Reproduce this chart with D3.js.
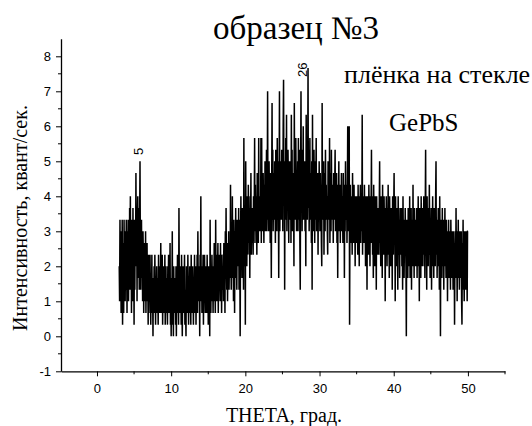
<!DOCTYPE html>
<html>
<head>
<meta charset="utf-8">
<script src="https://cdnjs.cloudflare.com/ajax/libs/d3/7.8.5/d3.min.js"></script>
<style>
  body { margin: 0; background: #fff; }
  svg { display: block; }
  .tick text { font-family: "Liberation Sans", Arial, sans-serif; font-size: 13px; fill: #000; }
</style>
</head>
<body>
<svg id="chart" width="532" height="426"></svg>
<script>
// scan: theta from 3 to 50 deg, step 0.05; counts per 3 s (intensity = counts / 3)
var thetaStart = 3;
var thetaStep = 0.05;
var counts = [
  6,3,10,4,8,2,9,3,10,1,7,8,2,10,5,8,3,9,4,10,
  6,2,9,5,10,3,8,4,11,6,12,4,9,2,10,7,3,11,5,8,
  1,10,4,9,6,14,8,11,3,10,12,5,9,11,4,10,15,7,4,8,
  10,5,8,3,9,7,2,8,4,7,3,9,2,6,4,8,3,5,1,7,
  2,6,3,7,4,1,5,3,7,2,4,0,5,3,6,2,7,4,1,5,
  3,6,2,5,4,1,7,3,5,2,6,4,8,2,5,3,7,1,4,6,
  2,5,3,7,1,4,6,2,5,3,1,6,4,7,2,5,3,8,1,4,
  0,5,3,9,1,4,0,6,2,4,3,5,1,6,0,4,2,7,3,5,
  1,11,4,2,6,3,5,1,7,3,0,4,6,2,5,3,7,1,4,2,
  0,6,3,5,2,7,4,1,5,3,6,2,4,1,7,3,5,2,6,4,
  1,5,3,7,2,4,6,1,5,3,7,2,9,4,6,3,5,0,7,4,
  12,3,6,2,5,4,7,1,5,3,7,4,2,6,3,5,2,7,4,5,
  1,6,3,5,0,10,4,2,6,3,7,4,5,2,6,3,8,4,5,2,
  10,4,7,3,6,5,8,2,6,4,7,5,3,8,4,6,2,7,5,4,
  6,3,8,4,7,2,9,5,11,6,4,8,3,7,5,9,4,6,8,5,
  13,7,4,9,6,12,5,8,3,10,7,2,9,6,11,5,8,4,10,7,
  9,6,11,4,10,7,0,8,12,6,9,5,11,7,10,4,17,8,6,10,
  1,15,8,11,6,12,9,7,13,10,8,11,5,12,9,14,7,10,8,11,
  10,7,12,9,11,17,8,13,10,9,12,7,14,10,11,8,17,9,12,10,
  11,9,17,8,17,10,12,9,14,11,8,13,10,15,9,12,11,16,9,12,
  21,10,13,9,15,11,12,8,14,11,5,13,20,10,16,9,14,12,10,15,
  12,8,16,11,14,9,17,10,15,12,5,13,21,9,15,12,14,10,16,11,
  13,9,18,22,12,15,4,14,10,17,12,19,9,14,11,16,13,8,15,12,
  14,10,15,8,19,12,16,9,14,11,13,6,20,12,15,10,17,13,9,14,
  12,15,9,17,13,10,16,8,4,14,21,12,16,9,15,11,18,10,14,12,
  15,9,13,6,19,12,15,10,14,23,11,16,9,13,17,10,14,12,8,15,
  4,19,11,14,9,16,12,8,15,10,13,17,9,12,11,14,7,13,10,15,
  12,9,14,11,13,8,6,20,11,13,10,15,7,12,14,9,16,11,13,10,
  12,9,7,15,11,13,10,17,8,12,14,9,16,11,13,10,12,8,14,11,
  10,13,16,9,12,11,14,8,13,5,12,10,15,9,11,13,8,12,10,14,
  9,12,11,8,14,10,13,5,12,9,15,11,10,13,8,12,18,9,11,14,
  18,1,10,13,8,12,9,11,7,14,10,12,8,13,9,11,6,12,10,9,
  8,12,10,7,13,9,11,6,12,10,13,8,11,9,10,19,7,12,9,11,
  8,13,9,11,6,12,8,10,4,12,9,11,7,13,9,10,6,12,8,11,
  16,8,12,7,10,5,13,9,11,6,12,8,10,4,12,9,7,11,8,10,
  7,11,15,8,10,6,12,9,11,5,13,8,10,7,12,9,11,3,10,8,
  12,9,6,11,8,13,7,10,5,12,8,9,6,11,8,10,4,12,9,7,
  11,14,8,10,3,12,7,9,6,11,8,4,12,9,7,10,5,11,8,9,
  7,11,6,9,4,12,8,10,5,9,7,11,8,6,0,10,7,9,5,11,
  8,10,6,12,5,9,7,11,4,10,8,6,13,7,9,5,11,8,10,6,
  9,7,11,5,10,8,12,6,9,3,11,7,10,5,12,8,9,6,11,7,
  8,12,6,10,5,11,16,7,9,4,12,8,10,6,11,7,13,9,5,10,
  7,11,4,9,8,12,6,10,5,11,8,9,6,12,15,7,10,5,9,8,
  11,6,9,4,12,8,0,10,7,9,5,11,6,8,10,4,9,7,11,6,
  8,5,10,6,9,3,8,7,10,5,9,6,8,4,10,7,5,9,6,8,
  4,9,6,8,1,7,9,5,11,6,8,3,9,6,10,5,7,4,9,6,
  7,5,9,3,1,8,6,10,4,7,3,9,5,8,4,9,6,7,3,9,
  9
];
var xTicks = [0, 10, 20, 30, 40, 50];
var yTicks = [-1, 0, 1, 2, 3, 4, 5, 6, 7, 8];
// peak marks: where the rotated label starts
var peakLabels = [{ theta: 6.2, value: 5.18, text: "5" }, { theta: 28.3, value: 7.41, text: "26" }];

var serif = "Liberation Serif";
var sans = "Liberation Sans";

var svg = d3.select("#chart");

var x = d3.scaleLinear().domain([-4.85, 55]).range([61, 505]);
var y = d3.scaleLinear().domain([-1, 8.5]).range([371.3, 38.8]);

var data = counts.map(function(c, i) {
    return { theta: thetaStart + i * thetaStep, value: c / 3 };
});

// trace
var line = d3.line()
    .x(function(d) { return x(d.theta); })
    .y(function(d) { return y(d.value); });

svg.append("path")
    .datum(data)
    .attr("d", line)
    .attr("fill", "none")
    .attr("stroke", "#000")
    .attr("stroke-width", 1.5)
    .attr("stroke-linejoin", "miter")
    .attr("stroke-miterlimit", 2);

// axes
var xAxis = svg.append("g")
    .attr("transform", "translate(0," + y.range()[0] + ")")
    .call(d3.axisBottom(x).tickValues(xTicks).tickFormat(String).tickSize(5).tickSizeOuter(0).tickPadding(7));
xAxis.append("g").selectAll("line")
    .data([-5, 5, 15, 25, 35, 45, 55].filter(function(v) { return v > x.domain()[0]; }))
    .enter().append("line")
    .attr("x1", function(d) { return x(d); })
    .attr("x2", function(d) { return x(d); })
    .attr("y1", 0).attr("y2", 3)
    .attr("stroke", "#000");

var yAxis = svg.append("g")
    .attr("transform", "translate(" + x.range()[0] + ",0)")
    .call(d3.axisLeft(y).tickValues(yTicks).tickFormat(String).tickSize(5).tickSizeOuter(0).tickPadding(5));
yAxis.append("g").selectAll("line")
    .data(d3.range(-0.5, 8.5, 1))
    .enter().append("line")
    .attr("y1", function(d) { return y(d); })
    .attr("y2", function(d) { return y(d); })
    .attr("x1", 0).attr("x2", -3)
    .attr("stroke", "#000");

svg.selectAll(".domain").attr("stroke", "#000").attr("stroke-width", 1.3);
svg.selectAll(".tick line").attr("stroke", "#000");

// peak labels (rotated)
svg.selectAll(".peak")
    .data(peakLabels)
    .enter().append("text")
    .attr("class", "peak")
    .attr("transform", function(d) {
        return "translate(" + x(d.theta) + "," + y(d.value) + ") rotate(-90)";
    })
    .attr("font-family", sans)
    .attr("font-size", 13)
    .text(function(d) { return d.text; });

// titles
function label(px, py, size, anchor, txt, rot) {
    var t = svg.append("text")
        .attr("text-anchor", anchor)
        .attr("font-family", serif)
        .attr("font-size", size)
        .attr("fill", "#000")
        .text(txt);
    if (rot) {
        t.attr("transform", "translate(" + px + "," + py + ") rotate(" + rot + ")");
    } else {
        t.attr("x", px).attr("y", py);
    }
    return t;
}

label(296, 39, 33, "middle", "образец №3");
label(344, 83, 26, "start", "плёнка на стекле");
label(389, 131, 25, "start", "GePbS");
label(284, 422, 20, "middle", "THETA, град.");
label(27, 218, 20, "middle", "Интенсивность, квант/сек.", -90);
</script>
</body>
</html>
